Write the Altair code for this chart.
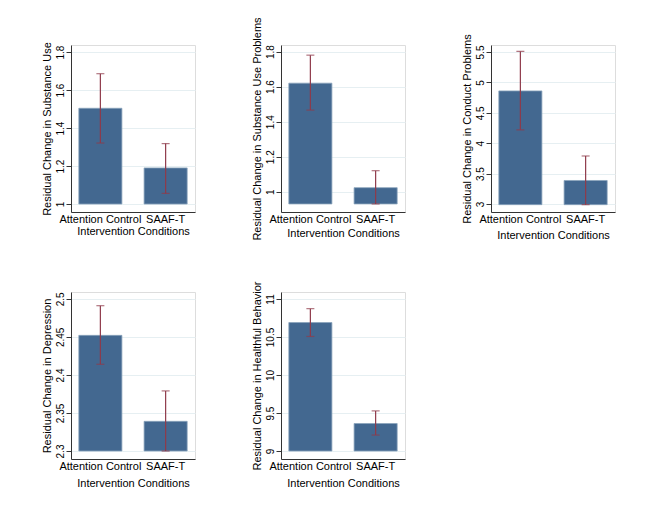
import altair as alt
import pandas as pd

groups = ["Attention Control", "SAAF-T"]

titles = [
    "Residual Change in Substance Use",
    "Residual Change in Substance Use Problems",
    "Residual Change in Conduct Problems",
    "Residual Change in Depression",
    "Residual Change in Healthful Behavior",
]

means = [
    [1.504, 1.19],
    [1.62, 1.023],
    [4.86, 3.387],
    [2.452, 2.339],
    [10.69, 9.362],
]
lows = [
    [1.321, 1.056],
    [1.466, 0.93],
    [4.22, 2.99],
    [2.414, 2.3],
    [10.507, 9.21],
]
highs = [
    [1.686, 1.318],
    [1.78, 1.12],
    [5.51, 3.79],
    [2.491, 2.379],
    [10.873, 9.528],
]
bases = [1.0, 0.93, 2.99, 2.3, 9.0]
tick_values = [
    [1, 1.2, 1.4, 1.6, 1.8],
    [1, 1.2, 1.4, 1.6, 1.8],
    [3, 3.5, 4, 4.5, 5, 5.5],
    [2.3, 2.35, 2.4, 2.45, 2.5],
    [9, 9.5, 10, 10.5, 11],
]
domains = [
    [0.958, 1.837],
    [0.884, 1.838],
    [2.869, 5.615],
    [2.2895, 2.509],
    [8.895, 11.092],
]
x_title_pad = [1, 3, 5, 6, 6]

BAR = "#436890"
ERR = "#8f3a4a"
FONT = "Liberation Sans"


def panel(i):
    df = pd.DataFrame({
        "group": groups,
        "mean": means[i],
        "lo": lows[i],
        "hi": highs[i],
        "base": [bases[i]] * len(groups),
    })
    xenc = alt.X(
        "group:N",
        sort=groups,
        scale=alt.Scale(paddingInner=0.34, paddingOuter=0.12),
        axis=alt.Axis(
            title="Intervention Conditions",
            labelAngle=0,
            ticks=False,
            tickSize=0,
            grid=False,
            labelPadding=1,
            titlePadding=x_title_pad[i],
            labelFontSize=11,
            titleFontSize=11,
            titleFontWeight="normal",
            domainColor="#333333",
            labelColor="#000000",
            titleColor="#000000",
            labelFont=FONT,
            titleFont=FONT,
        ),
    )
    yscale = alt.Scale(domain=domains[i], nice=False, zero=False)
    yaxis = alt.Axis(
        title=titles[i],
        values=tick_values[i],
        tickCount=20,
        format="~g",
        labelAngle=270,
        labelAlign="center",
        labelBaseline="alphabetic",
        labelOverlap=False,
        labelPadding=3,
        tickSize=5,
        tickColor="#333333",
        domainColor="#333333",
        gridColor="#e6eff2",
        grid=True,
        labelFontSize=10,
        titleFontSize=11,
        titleFontWeight="normal",
        titlePadding=3,
        labelColor="#000000",
        titleColor="#000000",
        labelFont=FONT,
        titleFont=FONT,
    )
    bars = alt.Chart(df).mark_bar(color=BAR, stroke="#8aa3bb", strokeWidth=0.8).encode(
        x=xenc,
        y=alt.Y("mean:Q", scale=yscale, axis=yaxis),
        y2="base:Q",
    )
    rules = alt.Chart(df).mark_rule(color=ERR, strokeWidth=1.2).encode(
        x=alt.X("group:N", sort=groups),
        y="lo:Q",
        y2="hi:Q",
    )
    caps_hi = alt.Chart(df).mark_tick(color=ERR, size=8, thickness=1.2).encode(
        x=alt.X("group:N", sort=groups),
        y="hi:Q",
    )
    caps_lo = alt.Chart(df).mark_tick(color=ERR, size=8, thickness=1.2).encode(
        x=alt.X("group:N", sort=groups),
        y="lo:Q",
    )
    return alt.layer(bars, rules, caps_hi, caps_lo).properties(width=124, height=167)


chart = alt.concat(
    *[panel(i) for i in range(5)],
    columns=3,
    spacing={"row": 80, "column": 86},
    bounds="flush",
).properties(
    padding={"left": 32, "top": 8, "right": 5, "bottom": 5},
).configure_view(
    stroke=None,
).configure_axis(
    labelOverlap=False,
).configure(
    background="white",
)

chart.save("out.html", embed_options={"renderer": "svg", "actions": False})
